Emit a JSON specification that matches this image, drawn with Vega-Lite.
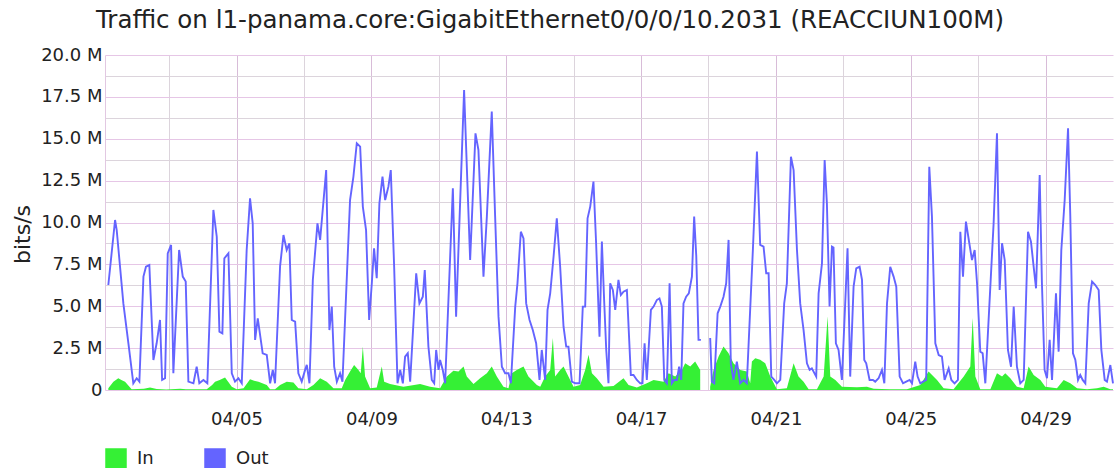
{
  "$schema": "https://vega.github.io/schema/vega-lite/v6.json",
  "autosize": {"type": "none"},
  "padding": {"left": 105, "top": 55, "right": 3, "bottom": 78},
  "width": 1008,
  "height": 335,
  "background": "#ffffff",
  "config": {"font": "DejaVu Sans", "view": {"stroke": null}},
  "title": {"text": "Traffic on l1-panama.core:GigabitEthernet0/0/0/10.2031 (REACCIUN100M)", "anchor": "middle", "frame": "group", "dx": -59, "dy": 26, "fontSize": 24.5, "fontWeight": "normal", "color": "#222222", "baseline": "alphabetic", "offset": 20},
  "datasets": {
    "in": [
      {"t":"2014-04-01T04:42","bps":100000},{"t":"2014-04-01T08:18","bps":500000},{"t":"2014-04-01T11:48","bps":700000},{"t":"2014-04-01T14:00","bps":600000},{"t":"2014-04-01T16:36","bps":500000},{"t":"2014-04-01T21:18","bps":50000},
      {"t":"2014-04-02T06:00","bps":80000},{"t":"2014-04-02T10:24","bps":150000},{"t":"2014-04-02T15:06","bps":60000},{"t":"2014-04-02T22:00","bps":30000},
      {"t":"2014-04-03T07:48","bps":80000},{"t":"2014-04-03T12:00","bps":50000},
      {"t":"2014-04-04T02:48","bps":50000},{"t":"2014-04-04T06:36","bps":300000},{"t":"2014-04-04T08:42","bps":500000},{"t":"2014-04-04T12:00","bps":600000},{"t":"2014-04-04T15:48","bps":750000},{"t":"2014-04-04T20:36","bps":200000},
      {"t":"2014-04-05T00:06","bps":40000},{"t":"2014-04-05T05:00","bps":100000},{"t":"2014-04-05T09:36","bps":640000},{"t":"2014-04-05T12:30","bps":550000},{"t":"2014-04-05T15:36","bps":500000},{"t":"2014-04-05T21:30","bps":300000},{"t":"2014-04-05T23:54","bps":40000},
      {"t":"2014-04-06T03:24","bps":50000},{"t":"2014-04-06T07:00","bps":300000},{"t":"2014-04-06T11:42","bps":500000},{"t":"2014-04-06T16:30","bps":450000},{"t":"2014-04-06T20:00","bps":100000},
      {"t":"2014-04-07T02:00","bps":50000},{"t":"2014-04-07T06:42","bps":300000},{"t":"2014-04-07T11:30","bps":700000},{"t":"2014-04-07T16:12","bps":500000},{"t":"2014-04-07T21:00","bps":100000},
      {"t":"2014-04-08T02:54","bps":100000},{"t":"2014-04-08T05:18","bps":600000},{"t":"2014-04-08T08:48","bps":1100000},{"t":"2014-04-08T11:42","bps":1500000},{"t":"2014-04-08T14:48","bps":1200000},{"t":"2014-04-08T16:24","bps":1000000},{"t":"2014-04-08T17:54","bps":2600000},{"t":"2014-04-08T19:30","bps":800000},{"t":"2014-04-08T23:06","bps":100000},
      {"t":"2014-04-09T03:48","bps":150000},{"t":"2014-04-09T07:24","bps":1400000},{"t":"2014-04-09T09:06","bps":500000},{"t":"2014-04-09T13:18","bps":360000},{"t":"2014-04-09T22:48","bps":200000},
      {"t":"2014-04-10T10:42","bps":360000},{"t":"2014-04-10T17:48","bps":200000},
      {"t":"2014-04-11T00:54","bps":100000},{"t":"2014-04-11T05:42","bps":800000},{"t":"2014-04-11T10:24","bps":1150000},{"t":"2014-04-11T14:00","bps":1100000},{"t":"2014-04-11T17:36","bps":1400000},{"t":"2014-04-11T19:54","bps":800000},
      {"t":"2014-04-12T00:42","bps":360000},{"t":"2014-04-12T05:24","bps":700000},{"t":"2014-04-12T10:12","bps":1000000},{"t":"2014-04-12T13:42","bps":1400000},{"t":"2014-04-12T17:18","bps":800000},{"t":"2014-04-12T22:00","bps":200000},
      {"t":"2014-04-13T01:36","bps":100000},{"t":"2014-04-13T04:00","bps":1000000},{"t":"2014-04-13T07:30","bps":1200000},{"t":"2014-04-13T12:18","bps":1400000},{"t":"2014-04-13T15:48","bps":800000},{"t":"2014-04-13T21:48","bps":300000},
      {"t":"2014-04-14T00:12","bps":200000},{"t":"2014-04-14T03:42","bps":800000},{"t":"2014-04-14T07:18","bps":1200000},{"t":"2014-04-14T09:12","bps":3100000},{"t":"2014-04-14T10:48","bps":800000},{"t":"2014-04-14T14:24","bps":1200000},{"t":"2014-04-14T16:48","bps":1400000},{"t":"2014-04-14T20:18","bps":800000},{"t":"2014-04-14T23:54","bps":200000},
      {"t":"2014-04-15T04:36","bps":300000},{"t":"2014-04-15T08:12","bps":1200000},{"t":"2014-04-15T10:36","bps":2100000},{"t":"2014-04-15T13:00","bps":1000000},{"t":"2014-04-15T16:30","bps":700000},{"t":"2014-04-15T21:18","bps":200000},
      {"t":"2014-04-16T04:24","bps":240000},{"t":"2014-04-16T11:30","bps":700000},{"t":"2014-04-16T15:06","bps":300000},{"t":"2014-04-16T21:00","bps":150000},
      {"t":"2014-04-17T04:06","bps":400000},{"t":"2014-04-17T08:54","bps":600000},{"t":"2014-04-17T16:00","bps":500000},{"t":"2014-04-17T19:36","bps":1000000},
      {"t":"2014-04-18T00:18","bps":800000},{"t":"2014-04-18T05:06","bps":1200000},{"t":"2014-04-18T07:24","bps":1600000},{"t":"2014-04-18T11:00","bps":1400000},{"t":"2014-04-18T14:30","bps":1700000},{"t":"2014-04-18T18:06","bps":1200000},
      {"t":"2014-04-18T22:00","bps":null},
      {"t":"2014-04-19T01:12","bps":200000},{"t":"2014-04-19T03:36","bps":1200000},{"t":"2014-04-19T07:12","bps":2000000},{"t":"2014-04-19T10:42","bps":2600000},{"t":"2014-04-19T14:18","bps":2200000},{"t":"2014-04-19T17:48","bps":1600000},{"t":"2014-04-19T22:36","bps":1200000},
      {"t":"2014-04-20T03:18","bps":1100000},{"t":"2014-04-20T05:42","bps":400000},{"t":"2014-04-20T06:54","bps":1700000},{"t":"2014-04-20T09:18","bps":1900000},{"t":"2014-04-20T12:48","bps":1800000},{"t":"2014-04-20T16:24","bps":1600000},{"t":"2014-04-20T20:00","bps":800000},
      {"t":"2014-04-21T00:42","bps":40000},{"t":"2014-04-21T07:48","bps":100000},{"t":"2014-04-21T12:36","bps":1600000},{"t":"2014-04-21T16:06","bps":800000},{"t":"2014-04-21T19:42","bps":500000},{"t":"2014-04-21T23:18","bps":40000},
      {"t":"2014-04-22T05:12","bps":40000},{"t":"2014-04-22T10:00","bps":800000},{"t":"2014-04-22T12:48","bps":4400000},{"t":"2014-04-22T14:42","bps":800000},{"t":"2014-04-22T18:18","bps":600000},{"t":"2014-04-22T23:00","bps":200000},
      {"t":"2014-04-23T09:42","bps":160000},{"t":"2014-04-23T16:48","bps":200000},{"t":"2014-04-23T21:36","bps":80000},
      {"t":"2014-04-24T09:24","bps":40000},{"t":"2014-04-24T21:18","bps":40000},
      {"t":"2014-04-25T06:48","bps":300000},{"t":"2014-04-25T12:42","bps":1100000},{"t":"2014-04-25T18:42","bps":600000},{"t":"2014-04-25T23:24","bps":100000},
      {"t":"2014-04-26T06:30","bps":40000},{"t":"2014-04-26T13:42","bps":800000},{"t":"2014-04-26T18:24","bps":1400000},{"t":"2014-04-26T20:06","bps":4300000},{"t":"2014-04-26T22:00","bps":800000},
      {"t":"2014-04-27T01:30","bps":40000},{"t":"2014-04-27T08:42","bps":40000},{"t":"2014-04-27T13:24","bps":1000000},{"t":"2014-04-27T17:00","bps":800000},{"t":"2014-04-27T19:18","bps":1000000},{"t":"2014-04-27T22:54","bps":700000},
      {"t":"2014-04-28T03:36","bps":200000},{"t":"2014-04-28T08:24","bps":100000},{"t":"2014-04-28T11:54","bps":1400000},{"t":"2014-04-28T15:30","bps":900000},{"t":"2014-04-28T20:18","bps":600000},{"t":"2014-04-28T23:48","bps":200000},
      {"t":"2014-04-29T08:06","bps":100000},{"t":"2014-04-29T12:54","bps":600000},{"t":"2014-04-29T17:36","bps":400000},{"t":"2014-04-29T22:24","bps":100000},
      {"t":"2014-04-30T05:30","bps":40000},{"t":"2014-04-30T12:36","bps":100000},{"t":"2014-04-30T17:24","bps":200000},{"t":"2014-04-30T22:06","bps":40000},{"t":"2014-05-01T00:00","bps":40000}
    ],
    "out": [
      {"t":"2014-04-01T04:42","bps":6270000},{"t":"2014-04-01T09:30","bps":10150000},{"t":"2014-04-01T10:40","bps":9550000},{"t":"2014-04-01T15:24","bps":5170000},{"t":"2014-04-01T19:00","bps":2790000},{"t":"2014-04-01T22:30","bps":400000},
      {"t":"2014-04-02T00:54","bps":700000},{"t":"2014-04-02T02:48","bps":500000},{"t":"2014-04-02T05:42","bps":6770000},{"t":"2014-04-02T07:30","bps":7360000},{"t":"2014-04-02T09:54","bps":7460000},{"t":"2014-04-02T12:48","bps":1790000},{"t":"2014-04-02T15:06","bps":2790000},{"t":"2014-04-02T17:30","bps":4180000},{"t":"2014-04-02T19:00","bps":600000},{"t":"2014-04-02T21:06","bps":700000},{"t":"2014-04-02T23:00","bps":8160000},
      {"t":"2014-04-03T01:24","bps":8660000},{"t":"2014-04-03T03:00","bps":1000000},{"t":"2014-04-03T07:06","bps":8360000},{"t":"2014-04-03T09:42","bps":6770000},{"t":"2014-04-03T11:48","bps":6470000},{"t":"2014-04-03T13:42","bps":500000},{"t":"2014-04-03T17:18","bps":400000},{"t":"2014-04-03T19:36","bps":1390000},{"t":"2014-04-03T21:30","bps":400000},
      {"t":"2014-04-04T00:24","bps":600000},{"t":"2014-04-04T03:12","bps":400000},{"t":"2014-04-04T07:30","bps":10750000},{"t":"2014-04-04T09:54","bps":9150000},{"t":"2014-04-04T11:48","bps":3480000},{"t":"2014-04-04T13:54","bps":3380000},{"t":"2014-04-04T15:18","bps":7860000},{"t":"2014-04-04T18:12","bps":8160000},{"t":"2014-04-04T20:36","bps":1000000},{"t":"2014-04-04T22:54","bps":500000},
      {"t":"2014-04-05T01:18","bps":700000},{"t":"2014-04-05T03:42","bps":400000},{"t":"2014-04-05T07:12","bps":8360000},{"t":"2014-04-05T09:36","bps":11440000},{"t":"2014-04-05T11:30","bps":9950000},{"t":"2014-04-05T13:12","bps":2990000},{"t":"2014-04-05T15:06","bps":4280000},{"t":"2014-04-05T18:36","bps":2190000},{"t":"2014-04-05T21:30","bps":2090000},{"t":"2014-04-05T23:54","bps":400000},
      {"t":"2014-04-06T01:48","bps":1200000},{"t":"2014-04-06T03:24","bps":400000},{"t":"2014-04-06T07:00","bps":7400000},{"t":"2014-04-06T09:24","bps":9250000},{"t":"2014-04-06T11:42","bps":8360000},{"t":"2014-04-06T13:36","bps":8760000},{"t":"2014-04-06T15:18","bps":4180000},{"t":"2014-04-06T17:42","bps":4080000},{"t":"2014-04-06T20:00","bps":1000000},{"t":"2014-04-06T22:24","bps":500000},
      {"t":"2014-04-07T00:48","bps":1200000},{"t":"2014-04-07T02:00","bps":1500000},{"t":"2014-04-07T03:54","bps":400000},{"t":"2014-04-07T06:18","bps":6570000},{"t":"2014-04-07T09:36","bps":9950000},{"t":"2014-04-07T11:30","bps":8960000},{"t":"2014-04-07T15:48","bps":13130000},{"t":"2014-04-07T18:06","bps":3580000},{"t":"2014-04-07T19:48","bps":4980000},{"t":"2014-04-07T21:30","bps":1390000},{"t":"2014-04-07T23:24","bps":500000},
      {"t":"2014-04-08T01:42","bps":1000000},{"t":"2014-04-08T03:24","bps":500000},{"t":"2014-04-08T08:48","bps":11340000},{"t":"2014-04-08T11:12","bps":12740000},{"t":"2014-04-08T13:36","bps":14730000},{"t":"2014-04-08T16:00","bps":14530000},{"t":"2014-04-08T17:54","bps":10950000},{"t":"2014-04-08T20:12","bps":9550000},{"t":"2014-04-08T22:24","bps":4180000},
      {"t":"2014-04-09T00:18","bps":6370000},{"t":"2014-04-09T01:54","bps":8460000},{"t":"2014-04-09T03:48","bps":6670000},{"t":"2014-04-09T05:42","bps":11140000},{"t":"2014-04-09T07:54","bps":12740000},{"t":"2014-04-09T09:48","bps":11340000},{"t":"2014-04-09T12:06","bps":12140000},{"t":"2014-04-09T13:48","bps":13130000},{"t":"2014-04-09T16:12","bps":7360000},{"t":"2014-04-09T18:36","bps":400000},{"t":"2014-04-09T20:30","bps":1200000},{"t":"2014-04-09T22:24","bps":400000},
      {"t":"2014-04-10T00:00","bps":1990000},{"t":"2014-04-10T01:54","bps":2190000},{"t":"2014-04-10T03:36","bps":500000},{"t":"2014-04-10T07:54","bps":6970000},{"t":"2014-04-10T10:12","bps":5170000},{"t":"2014-04-10T12:36","bps":5570000},{"t":"2014-04-10T14:00","bps":7160000},{"t":"2014-04-10T16:36","bps":2590000},{"t":"2014-04-10T19:00","bps":600000},{"t":"2014-04-10T20:42","bps":400000},{"t":"2014-04-10T22:06","bps":2390000},{"t":"2014-04-10T23:48","bps":1200000},
      {"t":"2014-04-11T00:54","bps":1790000},{"t":"2014-04-11T02:48","bps":1200000},{"t":"2014-04-11T04:30","bps":400000},{"t":"2014-04-11T10:00","bps":12040000},{"t":"2014-04-11T12:18","bps":4380000},{"t":"2014-04-11T18:00","bps":17910000},{"t":"2014-04-11T22:18","bps":7760000},
      {"t":"2014-04-12T02:06","bps":15320000},{"t":"2014-04-12T04:12","bps":14330000},{"t":"2014-04-12T07:48","bps":6770000},{"t":"2014-04-12T10:12","bps":10350000},{"t":"2014-04-12T13:42","bps":16620000},{"t":"2014-04-12T16:06","bps":10350000},{"t":"2014-04-12T18:30","bps":4380000},{"t":"2014-04-12T20:54","bps":1390000},{"t":"2014-04-12T23:12","bps":1000000},
      {"t":"2014-04-13T01:36","bps":1000000},{"t":"2014-04-13T03:18","bps":400000},{"t":"2014-04-13T06:24","bps":4980000},{"t":"2014-04-13T08:00","bps":6370000},{"t":"2014-04-13T10:24","bps":9450000},{"t":"2014-04-13T12:18","bps":9050000},{"t":"2014-04-13T14:12","bps":5170000},{"t":"2014-04-13T16:36","bps":4180000},{"t":"2014-04-13T18:54","bps":3580000},{"t":"2014-04-13T21:18","bps":2790000},{"t":"2014-04-13T23:42","bps":600000},
      {"t":"2014-04-14T01:18","bps":2390000},{"t":"2014-04-14T03:42","bps":600000},{"t":"2014-04-14T05:24","bps":4780000},{"t":"2014-04-14T07:18","bps":5770000},{"t":"2014-04-14T09:42","bps":7960000},{"t":"2014-04-14T12:00","bps":10250000},{"t":"2014-04-14T14:24","bps":7360000},{"t":"2014-04-14T16:48","bps":3780000},{"t":"2014-04-14T18:42","bps":2590000},{"t":"2014-04-14T20:18","bps":2590000},{"t":"2014-04-14T22:42","bps":500000},
      {"t":"2014-04-15T01:06","bps":400000},{"t":"2014-04-15T04:12","bps":400000},{"t":"2014-04-15T06:30","bps":4980000},{"t":"2014-04-15T08:12","bps":4980000},{"t":"2014-04-15T09:54","bps":10250000},{"t":"2014-04-15T11:48","bps":10950000},{"t":"2014-04-15T14:06","bps":12440000},{"t":"2014-04-15T16:00","bps":8760000},{"t":"2014-04-15T18:24","bps":3180000},{"t":"2014-04-15T20:06","bps":8860000},{"t":"2014-04-15T21:42","bps":5370000},{"t":"2014-04-15T23:12","bps":2390000},
      {"t":"2014-04-16T00:48","bps":400000},{"t":"2014-04-16T02:00","bps":6370000},{"t":"2014-04-16T03:54","bps":5970000},{"t":"2014-04-16T05:36","bps":4780000},{"t":"2014-04-16T07:54","bps":6570000},{"t":"2014-04-16T09:36","bps":5670000},{"t":"2014-04-16T11:30","bps":5870000},{"t":"2014-04-16T13:54","bps":5970000},{"t":"2014-04-16T16:42","bps":900000},{"t":"2014-04-16T18:36","bps":900000},{"t":"2014-04-16T21:00","bps":600000},{"t":"2014-04-16T23:24","bps":400000},
      {"t":"2014-04-17T01:00","bps":400000},{"t":"2014-04-17T02:30","bps":2790000},{"t":"2014-04-17T04:06","bps":600000},{"t":"2014-04-17T07:00","bps":4780000},{"t":"2014-04-17T08:54","bps":4980000},{"t":"2014-04-17T11:12","bps":5370000},{"t":"2014-04-17T13:06","bps":5470000},{"t":"2014-04-17T14:48","bps":4980000},{"t":"2014-04-17T16:30","bps":600000},{"t":"2014-04-17T18:24","bps":400000},{"t":"2014-04-17T20:18","bps":6370000},{"t":"2014-04-17T21:54","bps":400000},{"t":"2014-04-17T23:36","bps":600000},
      {"t":"2014-04-18T01:30","bps":600000},{"t":"2014-04-18T03:06","bps":1390000},{"t":"2014-04-18T04:36","bps":600000},{"t":"2014-04-18T06:12","bps":5170000},{"t":"2014-04-18T08:06","bps":5570000},{"t":"2014-04-18T10:00","bps":5770000},{"t":"2014-04-18T12:12","bps":6770000},{"t":"2014-04-18T13:48","bps":10350000},{"t":"2014-04-18T15:18","bps":8000000},{"t":"2014-04-18T16:54","bps":2990000},{"t":"2014-04-18T18:36","bps":2990000},
      {"t":"2014-04-18T22:00","bps":null},
      {"t":"2014-04-19T01:12","bps":3100000},{"t":"2014-04-19T02:24","bps":500000},{"t":"2014-04-19T04:06","bps":400000},{"t":"2014-04-19T06:30","bps":4580000},{"t":"2014-04-19T08:24","bps":4980000},{"t":"2014-04-19T10:42","bps":5570000},{"t":"2014-04-19T12:36","bps":6370000},{"t":"2014-04-19T14:18","bps":8960000},{"t":"2014-04-19T15:54","bps":1590000},{"t":"2014-04-19T17:48","bps":600000},{"t":"2014-04-19T20:12","bps":1690000},{"t":"2014-04-19T22:36","bps":400000},
      {"t":"2014-04-20T01:00","bps":600000},{"t":"2014-04-20T03:18","bps":400000},{"t":"2014-04-20T07:36","bps":8360000},{"t":"2014-04-20T10:30","bps":14230000},{"t":"2014-04-20T12:48","bps":8660000},{"t":"2014-04-20T15:12","bps":8560000},{"t":"2014-04-20T17:06","bps":6970000},{"t":"2014-04-20T18:48","bps":6970000},{"t":"2014-04-20T20:42","bps":800000},{"t":"2014-04-20T22:48","bps":600000},
      {"t":"2014-04-21T00:42","bps":400000},{"t":"2014-04-21T03:06","bps":600000},{"t":"2014-04-21T05:54","bps":5170000},{"t":"2014-04-21T07:48","bps":6370000},{"t":"2014-04-21T10:42","bps":13930000},{"t":"2014-04-21T12:36","bps":13130000},{"t":"2014-04-21T15:00","bps":8360000},{"t":"2014-04-21T17:18","bps":5170000},{"t":"2014-04-21T19:42","bps":3580000},{"t":"2014-04-21T22:06","bps":1590000},
      {"t":"2014-04-22T00:00","bps":1200000},{"t":"2014-04-22T01:36","bps":1290000},{"t":"2014-04-22T04:42","bps":800000},{"t":"2014-04-22T06:24","bps":5770000},{"t":"2014-04-22T08:48","bps":7560000},{"t":"2014-04-22T10:42","bps":13730000},{"t":"2014-04-22T12:18","bps":11140000},{"t":"2014-04-22T14:12","bps":4980000},{"t":"2014-04-22T15:54","bps":8560000},{"t":"2014-04-22T17:00","bps":8500000},{"t":"2014-04-22T18:42","bps":2790000},{"t":"2014-04-22T20:36","bps":2390000},{"t":"2014-04-22T23:00","bps":600000},
      {"t":"2014-04-23T03:00","bps":8460000},{"t":"2014-04-23T04:54","bps":800000},{"t":"2014-04-23T07:18","bps":6170000},{"t":"2014-04-23T09:12","bps":7260000},{"t":"2014-04-23T11:36","bps":7360000},{"t":"2014-04-23T13:18","bps":6570000},{"t":"2014-04-23T14:54","bps":1790000},{"t":"2014-04-23T16:18","bps":1590000},{"t":"2014-04-23T18:42","bps":600000},{"t":"2014-04-23T21:06","bps":600000},{"t":"2014-04-23T22:42","bps":500000},
      {"t":"2014-04-24T01:06","bps":700000},{"t":"2014-04-24T03:30","bps":1200000},{"t":"2014-04-24T05:12","bps":400000},{"t":"2014-04-24T07:06","bps":5170000},{"t":"2014-04-24T09:24","bps":7360000},{"t":"2014-04-24T11:48","bps":6770000},{"t":"2014-04-24T13:42","bps":6170000},{"t":"2014-04-24T16:06","bps":800000},{"t":"2014-04-24T18:30","bps":400000},{"t":"2014-04-24T20:48","bps":500000},{"t":"2014-04-24T23:12","bps":600000},
      {"t":"2014-04-25T00:54","bps":400000},{"t":"2014-04-25T03:12","bps":1690000},{"t":"2014-04-25T04:54","bps":800000},{"t":"2014-04-25T06:48","bps":400000},{"t":"2014-04-25T11:00","bps":600000},{"t":"2014-04-25T13:12","bps":13330000},{"t":"2014-04-25T15:06","bps":10350000},{"t":"2014-04-25T17:30","bps":2790000},{"t":"2014-04-25T19:54","bps":2090000},{"t":"2014-04-25T22:12","bps":1990000},
      {"t":"2014-04-26T00:06","bps":600000},{"t":"2014-04-26T03:00","bps":1290000},{"t":"2014-04-26T04:54","bps":600000},{"t":"2014-04-26T07:12","bps":400000},{"t":"2014-04-26T09:36","bps":600000},{"t":"2014-04-26T11:18","bps":9450000},{"t":"2014-04-26T13:12","bps":6770000},{"t":"2014-04-26T15:18","bps":10050000},{"t":"2014-04-26T17:42","bps":8760000},{"t":"2014-04-26T19:36","bps":7760000},{"t":"2014-04-26T21:30","bps":8360000},{"t":"2014-04-26T23:12","bps":6370000},
      {"t":"2014-04-27T01:30","bps":2290000},{"t":"2014-04-27T03:12","bps":2190000},{"t":"2014-04-27T05:06","bps":400000},{"t":"2014-04-27T11:00","bps":9950000},{"t":"2014-04-27T13:24","bps":15320000},{"t":"2014-04-27T15:18","bps":5970000},{"t":"2014-04-27T17:00","bps":8760000},{"t":"2014-04-27T18:54","bps":7760000},{"t":"2014-04-27T21:12","bps":2390000},{"t":"2014-04-27T23:24","bps":1390000},
      {"t":"2014-04-28T01:18","bps":4980000},{"t":"2014-04-28T03:36","bps":1390000},{"t":"2014-04-28T06:00","bps":400000},{"t":"2014-04-28T08:24","bps":600000},{"t":"2014-04-28T11:30","bps":9450000},{"t":"2014-04-28T13:36","bps":8860000},{"t":"2014-04-28T15:30","bps":7360000},{"t":"2014-04-28T17:12","bps":6070000},{"t":"2014-04-28T19:48","bps":12840000},{"t":"2014-04-28T21:24","bps":6370000},{"t":"2014-04-28T23:18","bps":1200000},
      {"t":"2014-04-29T01:00","bps":700000},{"t":"2014-04-29T02:54","bps":2990000},{"t":"2014-04-29T04:36","bps":600000},{"t":"2014-04-29T07:24","bps":5770000},{"t":"2014-04-29T09:18","bps":2290000},{"t":"2014-04-29T11:12","bps":8360000},{"t":"2014-04-29T13:36","bps":11340000},{"t":"2014-04-29T16:00","bps":15620000},{"t":"2014-04-29T17:36","bps":10350000},{"t":"2014-04-29T19:30","bps":2190000},{"t":"2014-04-29T21:12","bps":1790000},{"t":"2014-04-29T23:06","bps":600000},
      {"t":"2014-04-30T00:42","bps":900000},{"t":"2014-04-30T02:24","bps":600000},{"t":"2014-04-30T04:18","bps":400000},{"t":"2014-04-30T06:42","bps":5170000},{"t":"2014-04-30T09:06","bps":6470000},{"t":"2014-04-30T11:24","bps":6270000},{"t":"2014-04-30T13:48","bps":5970000},{"t":"2014-04-30T15:42","bps":2390000},{"t":"2014-04-30T18:06","bps":600000},{"t":"2014-04-30T19:42","bps":500000},{"t":"2014-04-30T22:06","bps":1490000},{"t":"2014-05-01T00:00","bps":400000}
    ]
  },
  "encoding": {
    "x": {
      "field": "t", "type": "temporal",
      "scale": {"domain": [{"year": 2014, "month": 4, "date": 1, "hours": 2, "minutes": 20}, {"year": 2014, "month": 5, "date": 1}]},
      "axis": {
        "title": null, "domain": false, "ticks": false,
        "values": [{"year":2014,"month":4,"date":3},{"year":2014,"month":4,"date":5},{"year":2014,"month":4,"date":7},{"year":2014,"month":4,"date":9},{"year":2014,"month":4,"date":11},{"year":2014,"month":4,"date":13},{"year":2014,"month":4,"date":15},{"year":2014,"month":4,"date":17},{"year":2014,"month":4,"date":19},{"year":2014,"month":4,"date":21},{"year":2014,"month":4,"date":23},{"year":2014,"month":4,"date":25},{"year":2014,"month":4,"date":27},{"year":2014,"month":4,"date":29}],
        "labelExpr": "date(datum.value) % 4 === 1 ? timeFormat(datum.value, '%m/%d') : ''",
        "labelFontSize": 18, "labelColor": "#222222", "labelPadding": 20, "labelOverlap": false, "labelFlush": false, "labelBound": false,
        "gridColor": {"condition": {"test": "date(datum.value) % 4 === 1", "value": "#d8bcd8"}, "value": "#dcd4dc"},
        "gridWidth": 1
      }
    },
    "y": {
      "field": "bps", "type": "quantitative",
      "scale": {"domain": [0, 20000000], "nice": false},
      "axis": {
        "title": "bits/s", "titleFontSize": 22, "titleFontWeight": "normal", "titleColor": "#222222",
        "titleX": -83, "titleY": 179, "titleAngle": 270, "titleAlign": "center", "titleBaseline": "middle",
        "values": [0,1250000,2500000,3750000,5000000,6250000,7500000,8750000,10000000,11250000,12500000,13750000,15000000,16250000,17500000,18750000,20000000],
        "labelExpr": "datum.value % 2500000 === 0 ? (datum.value === 0 ? '0' : format(datum.value / 1000000, '.1f') + ' M') : ''",
        "labelFontSize": 18, "labelColor": "#222222", "labelPadding": 3, "labelOverlap": false,
        "ticks": false, "domain": true, "domainColor": "#e2c8e2",
        "gridColor": {"condition": {"test": "datum.value % 2500000 === 0", "value": "#e6c6e6"}, "value": "#dcd4dc"},
        "gridWidth": 1
      }
    }
  },
  "layer": [
    {
      "data": {"name": "in"},
      "mark": {"type": "area", "invalid": "break-paths-show-domains", "opacity": 1},
      "encoding": {
        "color": {
          "datum": "In",
          "scale": {"domain": ["In", "Out"], "range": ["#35f035", "#6464ff"]},
          "legend": {
            "orient": "none", "legendX": 0, "legendY": 393, "direction": "horizontal", "title": null,
            "symbolType": "square", "symbolSize": 400, "labelFontSize": 18, "labelColor": "#222222",
            "labelOffset": 10, "columnPadding": 48, "padding": 0,
            "symbolStrokeColor": "#888888", "symbolStrokeWidth": 1.5, "symbolOpacity": 1,
            "encode": {"symbols": {"update": {"fill": {"scale": "color", "field": "value"}, "stroke": {"value": "#888888"}, "strokeWidth": {"value": 1.5}, "opacity": {"value": 1}}}}
          }
        }
      }
    },
    {
      "data": {"name": "out"},
      "mark": {"type": "line", "strokeWidth": 1.9, "invalid": "break-paths-show-domains"},
      "encoding": {"color": {"datum": "Out"}}
    }
  ]
}
